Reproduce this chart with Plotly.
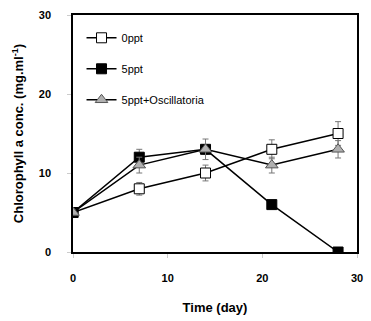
import plotly.graph_objects as go

days = [0, 7, 14, 21, 28]
s0 = [5, 8, 10, 13, 15]
s0_err = [0.3, 0.8, 1.0, 1.2, 1.5]
s5 = [5, 12, 13, 6, 0]
s5_err = [0.3, 1.0, 0.6, 0.3, 0.2]
sosc = [5, 11, 13, 11, 13]
sosc_err = [0.3, 1.0, 1.3, 1.0, 1.1]
names = ["0ppt", "5ppt", "5ppt+Oscillatoria"]

fig = go.Figure()
styles = [
    dict(symbol="square", color="white", line=dict(color="black", width=1), size=10),
    dict(symbol="square", color="black", line=dict(color="black", width=1), size=10),
    dict(symbol="triangle-up", color="#b0b0b0", line=dict(color="#555555", width=1), size=11),
]
for i, (y, e) in enumerate([(s0, s0_err), (s5, s5_err), (sosc, sosc_err)]):
    fig.add_trace(go.Scatter(
        x=days, y=y, name=names[i], mode="lines+markers",
        line=dict(color="black", width=1.5),
        marker=styles[i],
        error_y=dict(type="data", array=e, color="#777777", thickness=1, width=3),
        legendgroup=str(i),
    ))

fig.update_layout(
    width=371, height=321,
    margin=dict(l=73, r=8, t=15, b=68),
    plot_bgcolor="white", paper_bgcolor="white",
    font=dict(family="Arial, Liberation Sans, sans-serif", size=11, color="black"),
    showlegend=True,
    legend=dict(x=0.03, y=0.965, xanchor="left", yanchor="top", bgcolor="rgba(0,0,0,0)",
                tracegroupgap=12, traceorder="grouped", itemwidth=30, font=dict(size=11)),
    xaxis=dict(range=[0, 30], tickvals=[0, 10, 20, 30], showgrid=False, zeroline=False,
               showline=True, linecolor="black", linewidth=1.5, mirror=True,
               ticks="outside", ticklen=4, tickcolor="#cccccc",
               ticklabelstandoff=11,
               tickfont=dict(size=11, family="Arial, Liberation Sans, sans-serif", weight="bold"),
               title=dict(text="<b>Time (day)</b>", font=dict(size=13), standoff=20)),
    yaxis=dict(range=[0, 30], tickvals=[0, 10, 20, 30], showgrid=False, zeroline=False,
               showline=True, linecolor="black", linewidth=1.5, mirror=True,
               ticks="outside", ticklen=4, tickcolor="#cccccc",
               ticklabelstandoff=14,
               tickfont=dict(size=11, family="Arial, Liberation Sans, sans-serif", weight="bold"),
               title=dict(text="<b>Chlorophyll a conc. (mg.ml<sup>-1</sup>)</b>", font=dict(size=13), standoff=12)),
)
fig.write_html("out.html")
